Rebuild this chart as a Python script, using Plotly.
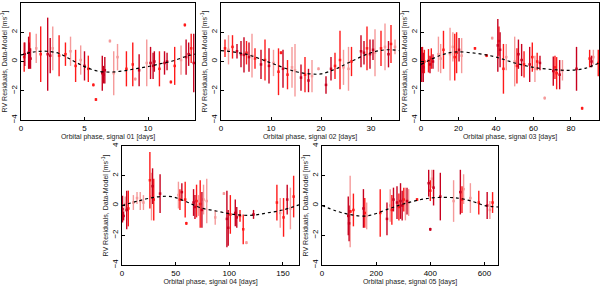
import plotly.graph_objects as go

# ---------------- data ----------------
# Panel 1: signal 01
p1_phase = [0.25, 0.3, 0.6, 0.65, 0.7, 0.75, 1.2, 1.55, 2.1, 2.3, 2.5, 3.0, 3.5, 3.9, 4.3, 4.7, 5.0, 5.3,
            5.7, 5.9, 6.4, 6.5, 6.6, 7.0, 7.3, 7.6, 8.3, 8.8, 9.0, 9.3, 9.9, 10.2, 10.4, 10.5, 10.9, 11.3,
            11.5, 11.8, 12.1, 12.6, 12.9, 13.0, 13.2, 13.4, 13.6]
p1_rv = [0.3, 0.5, 0.6, 0.4, 0.8, 0.2, 0.9, 0.5, 0.5, 0.4, 0.9, 0.4, 0.5, 0.7, -0.3, 0.1, -0.3, -0.5,
         -1.6, -2.6, -0.8, -0.9, -0.6, 1.4, -0.8, 0.3, -0.5, -0.2, -1.2, -0.6, -0.1, -0.1, -0.3, 0.0, -0.5, -0.1,
         0.0, -1.4, -0.3, 0.1, 2.5, 0.3, 0.5, 0.9, -0.1]
p1_err = [1.0, 0.8, 1.1, 0.9, 1.2, 0.7, 1.0, 1.9, 2.5, 1.2, 1.5, 1.4, 0.8, 1.0, 1.1, 1.0, 1.0, 0.9,
          0.1, 0.1, 1.2, 0.6, 0.9, 0.1, 1.5, 0.9, 1.2, 1.5, 0.1, 1.1, 1.6, 1.1, 0.9, 0.7, 1.2, 0.8,
          0.6, 0.1, 1.3, 1.0, 0.1, 1.2, 0.8, 1.0, 2.0]
p1_shade = [1, 0, 0, 0, 1, 0, 2, 1, 0, 0, 2, 1, 1, 2, 1, 2, 0, 1,
            1, 1, 0, 0, 0, 2, 2, 2, 1, 1, 2, 0, 2, 0, 0, 0, 1, 0,
            0, 1, 1, 2, 1, 0, 0, 1, 0]
p1_model_phase = [0, 1, 2, 3, 4, 5, 6, 7, 8, 9, 10, 11, 12, 13, 13.7]
p1_model = [0.45, 0.65, 0.7, 0.55, 0.1, -0.35, -0.65, -0.72, -0.65, -0.5, -0.35, -0.15, 0.05, 0.35, 0.5]

# Panel 2: signal 02
p2_phase = [0.8, 1.5, 2.3, 3.2, 4.0, 4.6, 5.1, 5.6, 6.2, 6.8, 8.0, 8.8, 9.6, 10.5, 11.5, 12.4, 13.3, 14.2,
            14.8, 16.0, 16.8, 17.5, 18.2, 21.0, 22.0, 22.8, 23.8, 24.5, 25.5, 26.1, 28.0, 28.6, 29.2, 29.8,
            30.4, 30.8, 32.0, 32.8, 33.5, 34.0, 34.8, 19.5, 12.0]
p2_rv = [0.9, 0.8, 1.0, 0.7, 0.5, 0.45, 0.6, 0.3, 0.4, 0.2, -0.2, 0.1, -0.3, -0.1, -0.7, -0.5, -0.9, -0.4,
         -0.6, -1.1, -0.9, -1.3, -1.0, -1.6, -0.5, -0.3, 0.1, -0.4, -0.5, 0.0, 0.7, 0.6, 0.9, 0.5,
         0.8, 0.6, 0.9, 1.0, 0.5, 1.2, 1.0, -0.5, 0.6]
p2_err = [0.6, 1.0, 0.8, 0.5, 0.9, 1.2, 0.8, 1.0, 1.5, 0.7, 1.0, 1.4, 1.2, 0.9, 1.6, 1.3, 1.0, 1.4,
          1.8, 0.9, 1.2, 0.8, 1.1, 0.6, 0.8, 0.9, 2.0, 1.2, 1.5, 1.0, 1.1, 0.8, 1.5, 1.0,
          0.7, 1.6, 1.2, 1.6, 0.9, 1.3, 0.5, 0.1, 0.1]
p2_shade = [1, 2, 1, 0, 0, 0, 1, 0, 2, 1, 0, 1, 0, 2, 1, 0, 1, 2,
            2, 0, 1, 0, 2, 0, 0, 1, 1, 2, 2, 1, 0, 0, 1, 0,
            0, 2, 1, 2, 0, 1, 2, 2, 1]
p2_model_phase = [0, 5, 10, 15, 18, 20, 23, 26, 30, 33, 35.6]
p2_model = [0.75, 0.5, -0.1, -0.7, -0.85, -0.85, -0.5, 0.0, 0.6, 0.8, 0.75]

# Panel 3: signal 03
p3_phase = [0.4, 0.8, 1.2, 1.8, 4.0, 4.8, 5.5, 6.4, 9.3, 10.5, 12.0, 15.5, 17.0, 18.0, 19.0, 20.3, 21.7,
            28.8, 35.0, 41.0, 41.6, 42.2, 44.0, 45.5, 50.0, 51.2, 52.0, 53.7, 55.0, 58.0, 59.4, 60.8,
            62.0, 63.5, 70.6, 71.5, 72.4, 74.0, 75.5, 83.0, 90.0, 91.0, 92.0, 94.6, 38.0, 86.0, 66.0]
p3_rv = [-0.2, 0.1, -0.4, 0.0, 0.05, -0.2, 0.2, 0.0, 0.5, 0.2, 0.8, 0.5, 1.0, 0.3, 0.6, 0.8, 0.4,
         0.9, 0.4, 1.1, 1.4, 0.8, -0.5, 0.3, 0.0, -0.3, 0.5, 0.1, -0.2, -0.2, 0.3, -0.5,
         0.0, -0.1, -0.65, -0.4, -0.8, -0.9, -0.6, -0.5, 0.2, 0.0, 0.3, -0.1, 1.6, -3.2, -2.5]
p3_err = [1.2, 0.9, 1.0, 0.8, 0.8, 0.6, 0.7, 0.5, 1.2, 1.0, 1.3, 1.8, 1.0, 1.6, 1.4, 0.8, 1.2,
          0.1, 0.1, 1.8, 1.0, 1.2, 1.7, 0.9, 1.7, 1.2, 1.0, 1.1, 0.9, 1.2, 1.0, 0.9,
          0.6, 0.5, 1.0, 0.8, 1.1, 1.0, 0.7, 1.5, 0.6, 0.4, 0.5, 0.9, 0.1, 0.1, 0.1]
p3_shade = [0, 1, 0, 1, 1, 0, 1, 0, 2, 2, 1, 2, 2, 1, 1, 0, 2,
            1, 1, 0, 1, 0, 1, 2, 2, 1, 0, 0, 1, 0, 1, 2,
            1, 0, 0, 1, 1, 0, 2, 0, 1, 0, 2, 1, 2, 1, 2]
p3_model_phase = [0, 10, 18, 30, 40, 50, 60, 70, 80, 88, 95]
p3_model = [-0.2, 0.4, 0.65, 0.55, 0.3, -0.1, -0.4, -0.55, -0.6, -0.45, -0.1]

# Panel 4: signal 04
p4_phase = [0.5, 1.5, 3.0, 4.4, 5.9, 10.6, 14.0, 17.0, 20.0, 26.0, 27.5, 28.5, 29.6, 35.5, 52.6, 54.0,
            55.8, 58.9, 66.7, 68.0, 69.5, 71.3, 72.9, 74.5, 76.0, 79.0, 86.9, 97.8, 99.0, 101.0, 105.6,
            107.0, 110.0, 113.0, 122.6, 144.4, 147.5, 150.6, 154.0, 157.0, 160.0, 60.0, 95.0, 116.0]
p4_rv = [-0.25, -0.7, 0.1, -0.3, -0.2, 0.2, 0.5, 0.3, 0.2, 1.7, 0.6, 1.3, 0.4, 0.8, 0.7, 0.4,
         0.9, 0.4, 0.2, -0.1, 0.3, 0.0, 0.1, -0.3, 0.4, 0.3, -0.8, -0.9, -1.5, -0.6, -0.5,
         -0.8, -0.7, -1.6, -0.6, 0.2, -0.5, -0.8, 0.4, -0.2, 0.6, -1.2, 0.8, -2.5]
p4_err = [0.9, 0.3, 0.5, 1.3, 1.2, 0.5, 0.4, 0.6, 0.5, 1.9, 1.6, 1.2, 1.4, 1.3, 0.9, 0.7,
          0.6, 1.2, 0.9, 0.8, 1.1, 0.7, 1.6, 1.2, 1.0, 1.5, 0.5, 1.9, 1.2, 1.3, 0.9,
          0.7, 0.4, 1.0, 0.3, 1.2, 1.0, 1.3, 1.0, 1.4, 1.4, 0.1, 0.1, 0.1]
p4_shade = [0, 0, 2, 0, 1, 2, 2, 2, 2, 1, 2, 0, 1, 0, 2, 1,
            0, 1, 0, 0, 1, 2, 1, 0, 2, 2, 2, 0, 0, 1, 0,
            0, 1, 1, 0, 1, 2, 1, 0, 2, 1, 1, 2, 2]
p4_model_phase = [0, 15, 30, 46, 60, 73, 90, 104, 122, 135, 150, 165]
p4_model = [0.0, 0.3, 0.55, 0.6, 0.25, -0.15, -0.4, -0.6, -0.65, -0.5, -0.3, 0.05]

# Panel 5: signal 05
p5_phase = [97, 100, 104, 116, 153, 158, 165, 215, 240, 252, 258, 264, 277, 284, 290, 296, 302, 308,
            314, 320, 351, 394, 400, 406, 412, 437, 486, 511, 517, 523, 548, 579, 610, 620, 630, 105, 400]
p5_rv = [-0.7, -1.2, -0.4, -0.3, -0.2, -0.5, -0.7, -0.5, -0.9, 0.0, -0.3, 0.4, 0.2, -0.1, 0.3, 0.0, 0.4, 0.1,
         0.3, 0.2, 0.4, 1.5, 1.0, 1.8, 1.2, 0.6, 0.3, 0.9, 0.4, 1.1, 0.5, 0.2, 0.0, -0.3, 0.2, -0.4, -1.6]
p5_err = [1.3, 1.2, 2.4, 1.1, 1.3, 1.0, 0.9, 1.6, 1.1, 1.1, 1.0, 0.8, 1.1, 0.9, 1.2, 1.0, 0.8, 1.1,
          0.9, 0.9, 0.1, 0.9, 0.7, 0.6, 1.2, 1.6, 1.4, 1.5, 0.9, 1.0, 1.0, 0.8, 0.9, 0.6, 0.7, 0.1, 0.1]
p5_shade = [0, 0, 2, 1, 0, 1, 2, 1, 0, 2, 1, 0, 0, 1, 0, 0, 1, 2,
            0, 2, 1, 0, 1, 2, 0, 0, 2, 0, 1, 2, 2, 1, 0, 2, 1, 1, 0]
p5_model_phase = [0, 50, 100, 165, 250, 300, 400, 500, 560, 600, 650]
p5_model = [0.0, -0.35, -0.6, -0.7, -0.2, 0.1, 0.5, 0.5, 0.25, 0.0, -0.1]

x_titles = ["Orbital phase, signal 01 [days]", "Orbital phase, signal 02 [days]",
            "Orbital phase, signal 03 [days]", "Orbital phase, signal 04 [days]",
            "Orbital phase, signal 05 [days]"]
x_ranges = [[0, 13.7], [0, 35.6], [0, 95], [0, 165], [0, 650]]
x_dticks = [5, 10, 20, 50, 200]
y_ticks = [-4, -2, 0, 2, 4]
y_title = "RV Residuals, Data-Model [ms<sup>-1</sup>]"

shade_colors = ["#c8001e", "#ff1a1a", "#f59a9a"]

panels = [
    (p1_phase, p1_rv, p1_err, p1_shade, p1_model_phase, p1_model),
    (p2_phase, p2_rv, p2_err, p2_shade, p2_model_phase, p2_model),
    (p3_phase, p3_rv, p3_err, p3_shade, p3_model_phase, p3_model),
    (p4_phase, p4_rv, p4_err, p4_shade, p4_model_phase, p4_model),
    (p5_phase, p5_rv, p5_err, p5_shade, p5_model_phase, p5_model),
]

# layout geometry (pixels in a 600x288 canvas)
W, H = 600, 288
x_dom_px = [(21, 195), (221, 399), (421, 599), (122, 299), (322, 498)]
y_dom_px = [(3, 120), (3, 120), (3, 120), (146, 265), (146, 265)]

fig = go.Figure()
font = "Liberation Sans, Arial, sans-serif"

for i, (ph, rv, er, sh, mph, mv) in enumerate(panels):
    n = i + 1
    xa = "x" if n == 1 else f"x{n}"
    ya = "y" if n == 1 else f"y{n}"
    for s in [2, 1, 0]:
        xs = [p for p, k in zip(ph, sh) if k == s]
        ys = [v for v, k in zip(rv, sh) if k == s]
        es = [e for e, k in zip(er, sh) if k == s]
        fig.add_trace(go.Scatter(
            x=xs, y=ys, mode="markers", xaxis=xa, yaxis=ya,
            marker=dict(symbol="square", size=2.5, color=shade_colors[s]),
            error_y=dict(type="data", array=es, visible=True, width=0,
                         thickness=1.4, color=shade_colors[s]),
            showlegend=False, hoverinfo="skip"))
    fig.add_trace(go.Scatter(
        x=mph, y=mv, mode="lines", xaxis=xa, yaxis=ya, line_shape="spline",
        line=dict(color="black", width=1.2, dash="dot"),
        showlegend=False, hoverinfo="skip"))

    (x0, x1), (yt, yb) = x_dom_px[i], y_dom_px[i]
    xkey = "xaxis" if n == 1 else f"xaxis{n}"
    ykey = "yaxis" if n == 1 else f"yaxis{n}"
    fig.layout[xkey] = dict(
        domain=[x0 / W, x1 / W], anchor=ya, range=x_ranges[i], dtick=x_dticks[i], tick0=0,
        automargin=False,
        showgrid=False, zeroline=False, showline=True, linecolor="black", linewidth=1,
        mirror=True, ticks="inside", ticklen=3, tickcolor="black",
        tickfont=dict(size=8, color="black", family=font),
        title=dict(text=x_titles[i], font=dict(size=7, color="#222", family=font), standoff=2))
    fig.layout[ykey] = dict(
        domain=[1 - yb / H, 1 - yt / H], anchor=xa, range=[-4, 4], tickvals=y_ticks,
        automargin=False,
        showgrid=False, zeroline=False, showline=True, linecolor="black", linewidth=1,
        mirror=True, ticks="inside", ticklen=3, tickcolor="black", tickangle=-90,
        tickfont=dict(size=8, color="black", family=font),
        title=dict(text=y_title, font=dict(size=7, color="#222", family=font), standoff=1))

fig.update_layout(
    width=W, height=H, margin=dict(l=0, r=0, t=0, b=0, autoexpand=False),
    paper_bgcolor="white", plot_bgcolor="white",
    font=dict(family=font),
)

fig.write_html("out.html", config={"displayModeBar": False},
               post_script="document.body.style.margin='0';document.body.style.overflow='hidden';")
